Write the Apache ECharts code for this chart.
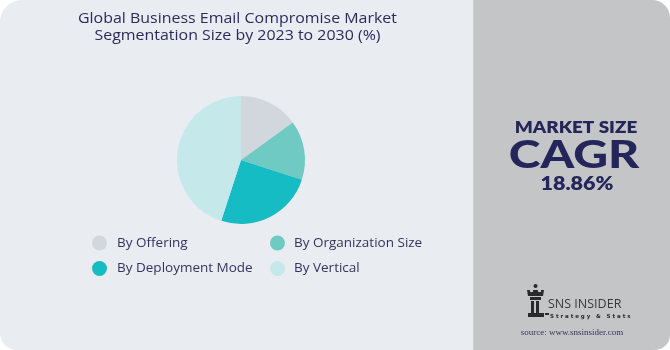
<!DOCTYPE html>
<html><head><meta charset="utf-8">
<script src="https://cdn.jsdelivr.net/npm/echarts@6/dist/echarts.min.js"></script>
<style>html,body{margin:0;padding:0;background:#fff}#c{width:670px;height:350px}</style>
</head><body><div id="c"></div>
<script>
var categories = ['By Offering', 'By Organization Size', 'By Deployment Mode', 'By Vertical'];
var values = [15, 15, 25, 45];
var colors = ['#D1D7DD', '#6FCAC4', '#16BCC3', '#C5E8EA'];
var titleLines = ['Global Business Email Compromise Market', 'Segmentation Size by 2023 to 2030 (%)'];
var cagrText = '18.86%';

var chart = echarts.init(document.getElementById('c'));
var navy = '#24265A';
var font = 'Open Sans';
chart.setOption({
  animation: false,
  graphic: [
    {type:'rect', z:-10, shape:{x:0,y:0,width:480,height:350,r:[22,0,0,17]}, style:{fill:'#E9ECF1'}},
    {type:'rect', z:-9, shape:{x:474,y:0,width:196,height:350,r:[0,18,15,0]}, style:{fill:'#C4C5C7'}},
    {type:'rect', z:-8, shape:{x:473,y:0,width:1,height:350}, style:{fill:'#CDD0D5'}},
    {type:'text', x:237.5, y:27.5, scaleX:1.1, style:{text:titleLines.join('\n'), align:'center', verticalAlign:'middle', fill:'#2B2C5C', font:'500 14.5px "'+font+'"', lineHeight:17.5}},
    {type:'text', x:576, y:128, scaleX:1.18, style:{text:'MARKET SIZE', align:'center', verticalAlign:'middle', fill:navy, font:'800 16px Lato'}},
    {type:'text', x:574, y:156, scaleX:1.3, style:{text:'CAGR', align:'center', verticalAlign:'middle', fill:navy, font:'900 37px Lato'}},
    {type:'text', x:577, y:184, scaleX:1.13, style:{text:cagrText, align:'center', verticalAlign:'middle', fill:navy, font:'800 19px Lato'}},
    // logo rook
    {type:'group', children:[
      {type:'circle', shape:{cx:535.5,cy:286,r:2}, style:{fill:'#2a2a2a'}},
      {type:'polygon', shape:{points:[[527,290],[530,290],[530,292],[533,292],[533,290],[538,290],[538,292],[541,292],[541,290],[544,290],[543,296],[528,296]]}, style:{fill:'#2a2a2a'}},
      {type:'rect', shape:{x:530,y:297,width:11,height:3}, style:{fill:'#2a2a2a'}},
      {type:'rect', shape:{x:531,y:301,width:3,height:12}, style:{fill:'#2a2a2a'}},
      {type:'rect', shape:{x:536,y:301,width:3,height:12}, style:{fill:'#2a2a2a'}},
      {type:'rect', shape:{x:528,y:313,width:16,height:4}, style:{fill:'#2a2a2a'}},
      {type:'rect', shape:{x:545,y:313,width:4,height:2}, style:{fill:'#2a2a2a'}}
    ]},
    {type:'text', style:{text:'SNS INSIDER', x:548, y:304, align:'left', verticalAlign:'middle', fill:'#3a3a3a', font:'12.5px "Open Sans"'}},
    {type:'text', style:{text:'S t r a t e g y   &   S t a t s', x:550, y:317, align:'left', verticalAlign:'middle', fill:'#2a2a2a', font:'bold 5.5px "DejaVu Sans"'}},
    {type:'text', style:{text:'source: www.snsinsider.com', x:572, y:333, align:'center', verticalAlign:'middle', fill:'#33335F', font:'9px "Liberation Serif"'}}
  ],
  legend: [
    {orient:'vertical', left:92, top:235.5, padding:0, itemWidth:15, itemHeight:15, itemGap:10.5, icon:'circle', selectedMode:false,
     data:[categories[0], categories[2]], textStyle:{color:'#33345E', fontSize:13.5, fontFamily:font, padding:[0,0,0,5]}},
    {orient:'vertical', left:270, top:235.5, padding:0, itemWidth:15, itemHeight:15, itemGap:10.5, icon:'circle', selectedMode:false,
     data:[categories[1], categories[3]], textStyle:{color:'#33345E', fontSize:13.5, fontFamily:font, padding:[0,0,0,4]}}
  ],
  series: [{
    type:'pie', center:[241,160], radius:64, startAngle:90, clockwise:true,
    label:{show:false}, labelLine:{show:false}, emphasis:{disabled:true},
    itemStyle:{borderWidth:0},
    data: categories.map(function(c,i){return {name:c, value:values[i], itemStyle:{color:colors[i]}};})
  }]
});
</script></body></html>
